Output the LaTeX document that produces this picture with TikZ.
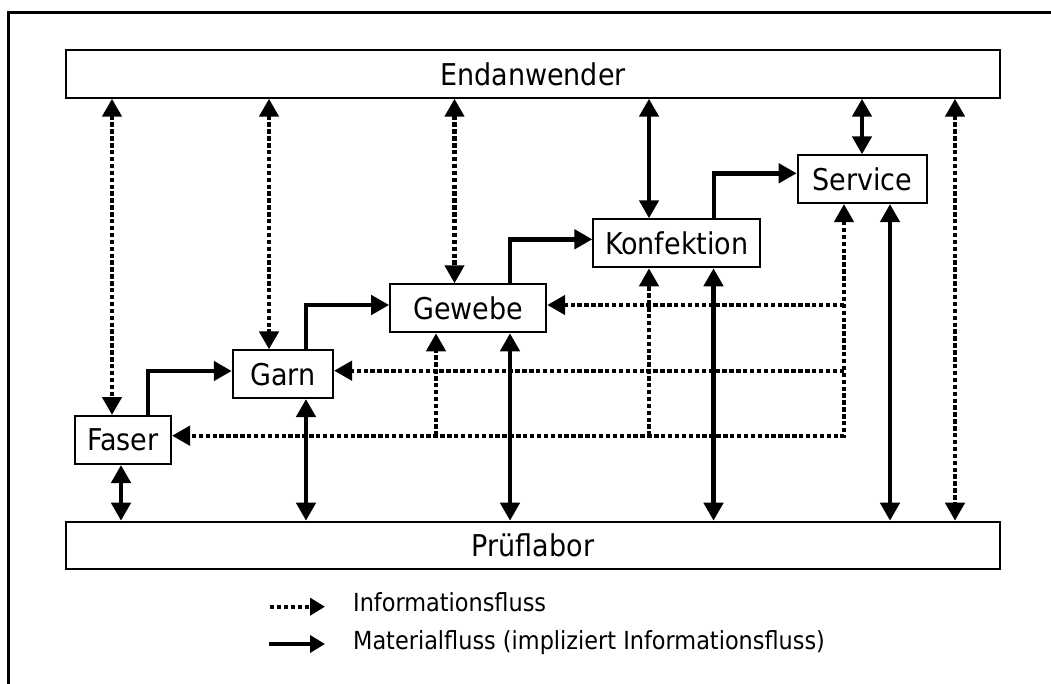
\documentclass[tikz,border=0pt]{standalone}
\usepackage{fontspec}
\newfontfamily\labelfont{DejaVu Sans Condensed}
\usetikzlibrary{arrows.meta}
\begin{document}
\begin{tikzpicture}[x=1pt,y=-1pt,
  box/.style={draw, line width=2pt, inner sep=0pt,
    font=\labelfont\fontsize{30}{32}\selectfont},
  legendtext/.style={anchor=base west, inner sep=0pt,
    font=\labelfont\fontsize{24.9}{27}\selectfont},
  info/.style={line width=4.4pt, dash pattern=on 4.4pt off 2.5pt},
  mat/.style={line width=4.8pt},
  >={Triangle[length=18pt,width=19pt]},
  smalltip/.style={-{Triangle[length=15pt,width=17pt]}},
]
\useasboundingbox (0,0) rectangle (1051,684);
% frame
\draw[line width=2.6pt] (8.7,684) -- (8.7,12.8) -- (1051,12.8);

% stages
\node[box, minimum width=934pt, minimum height=47.4pt] (end) at (533,74) {Endanwender};
\node[box, minimum width=934pt, minimum height=47.3pt] (lab) at (533,545.35) {Prüflabor};
\node[box, minimum width=96pt, minimum height=48pt] (faser) at (123,440) {Faser};
\node[box, minimum width=100.3pt, minimum height=47.7pt] (garn) at (282.9,374.2) {Garn};
\node[box, minimum width=156pt, minimum height=48pt] (gewebe) at (468.2,308.3) {Gewebe};
\node[box, minimum width=166.7pt, minimum height=48pt] (konf) at (676.7,243.3) {Konfektion};
\node[box, minimum width=129pt, minimum height=47.7pt] (service) at (862.2,179.2) {Service};

% line positions
\coordinate (xf) at (112,0);
\coordinate (xg) at (269,0);
\coordinate (xw) at (454.5,0);
\coordinate (xe) at (955,0);
\coordinate (xk) at (649,0);
\coordinate (xs) at (862,0);
\coordinate (yf) at (121,0);
\coordinate (yg) at (306,0);
\coordinate (yw) at (510,0);
\coordinate (yk) at (713.5,0);
\coordinate (ys) at (890,0);

% information flow from the end user
\draw[info,<->] (xf |- end.south) -- (xf |- faser.north);
\draw[info,<->] (xg |- end.south) -- (xg |- garn.north);
\draw[info,<->] (xw |- end.south) -- (xw |- gewebe.north);
\draw[info,<->] (xe |- end.south) -- (xe |- lab.north);

% material flow to the end user
\draw[mat,<->] (xk |- end.south) -- (xk |- konf.north);
\draw[mat,<->] (xs |- end.south) -- (xs |- service.north);

% material flow to the testing lab
\draw[mat,<->] (yf |- faser.south) -- (yf |- lab.north);
\draw[mat,<->] (yg |- garn.south) -- (yg |- lab.north);
\draw[mat,<->] (yw |- gewebe.south) -- (yw |- lab.north);
\draw[mat,<->] (yk |- konf.south) -- (yk |- lab.north);
\draw[mat,<->] (ys |- service.south) -- (ys |- lab.north);

% chain of production
\coordinate (c1) at (148,371);
\coordinate (c2) at (306,305);
\coordinate (c3) at (510,239.3);
\coordinate (c4) at (714,173.3);
\draw[mat,->] (c1 |- faser.north) -- (c1) -- (c1 -| garn.west);
\draw[mat,->] (c2 |- garn.north) -- (c2) -- (c2 -| gewebe.west);
\draw[mat,->] (c3 |- gewebe.north) -- (c3) -- (c3 -| konf.west);
\draw[mat,->] (c4 |- konf.north) -- (c4) -- (c4 -| service.west);

% feedback information network
\coordinate (t) at (844,435.7);
\coordinate (bw) at (844,305);
\coordinate (bg) at (844,370.7);
\coordinate (vw) at (436,435.7);
\coordinate (vk) at (649,435.7);
\draw[info,<->] (t |- service.south) -- (t) -- (t -| faser.east);
\draw[info,->] (bw) -- (bw -| gewebe.east);
\draw[info,->] (bg) -- (bg -| garn.east);
\draw[info,->] (vw) -- (vw |- gewebe.south);
\draw[info,->] (vk) -- (vk |- konf.south);

% legend
\coordinate (la) at (270,606.7);
\coordinate (lb) at (325,606.7);
\coordinate (lc) at (269,644);
\coordinate (ld) at (325,644);
\draw[info,smalltip] (la) -- (lb);
\draw[mat,smalltip] (lc) -- (ld);
\node[legendtext] (lt1) at (353,611.7) {Informationsfluss};
\node[legendtext] (lt2) at (353,649.3) {Materialfluss (impliziert Informationsfluss)};
\end{tikzpicture}
\end{document}
